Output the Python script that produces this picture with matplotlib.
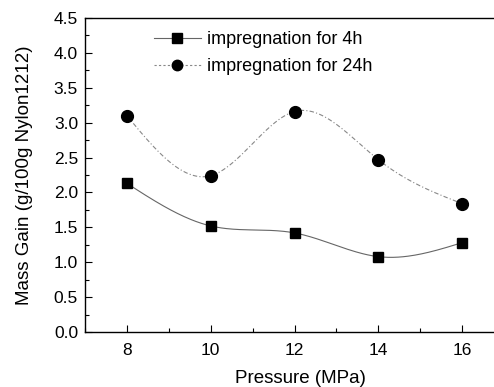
import numpy as np
import matplotlib
matplotlib.use("Agg")
import matplotlib.pyplot as plt
from matplotlib.ticker import MultipleLocator, FormatStrFormatter

plt.rcParams['font.family'] = ['Liberation Sans', 'DejaVu Sans']

pressure = [8, 10, 12, 14, 16]
gain_4h = [2.13, 1.52, 1.42, 1.08, 1.28]
gain_24h = [3.10, 2.24, 3.16, 2.47, 1.84]
labels = ["impregnation for 4h", "impregnation for 24h"]


def natural_spline(x, y, n=200):
    # natural cubic spline through the points, only for drawing the curve
    x = np.asarray(x, float)
    y = np.asarray(y, float)
    k = len(x)
    h = np.diff(x)
    A = np.zeros((k, k))
    b = np.zeros(k)
    A[0, 0] = A[-1, -1] = 1
    for i in range(1, k - 1):
        A[i, i - 1] = h[i - 1]
        A[i, i] = 2 * (h[i - 1] + h[i])
        A[i, i + 1] = h[i]
        b[i] = 6 * ((y[i + 1] - y[i]) / h[i] - (y[i] - y[i - 1]) / h[i - 1])
    m = np.linalg.solve(A, b)
    xs = np.linspace(x[0], x[-1], n)
    idx = np.clip(np.searchsorted(x, xs) - 1, 0, k - 2)
    x0, x1 = x[idx], x[idx + 1]
    hh = x1 - x0
    t0, t1 = x1 - xs, xs - x0
    ys = (m[idx] * t0 ** 3 + m[idx + 1] * t1 ** 3) / (6 * hh) \
        + (y[idx] / hh - m[idx] * hh / 6) * t0 \
        + (y[idx + 1] / hh - m[idx + 1] * hh / 6) * t1
    return xs, ys


fig = plt.figure(figsize=(4.94, 3.87), dpi=100)
ax = fig.add_axes([85 / 494, 55 / 387, 419 / 494, 314 / 387])

xs, ys = natural_spline(pressure, gain_4h)
ax.plot(xs, ys, color='#666666', lw=0.8, ls='-')
xs, ys = natural_spline(pressure, gain_24h)
ax.plot(xs, ys, color='#888888', lw=0.8, ls=(0, (4, 2, 1, 2)))

ax.plot(pressure, gain_4h, ls='none', marker='s', ms=7.5, color='black')
ax.plot(pressure, gain_24h, ls='none', marker='o', ms=8.5, color='black')

# legend proxies
ax.plot([], [], color='#666666', lw=0.8, marker='s', ms=7, mfc='black', mec='black', label=labels[0])
ax.plot([], [], color='#888888', lw=0.8, ls=(0, (2, 2)), marker='o', ms=7.5, mfc='black', mec='black', label=labels[1])
handles, labs = ax.get_legend_handles_labels()
ax.legend(handles, labs, loc='upper left', bbox_to_anchor=(0.125, 1.01), frameon=False,
          fontsize=13, handlelength=2.6, handletextpad=0.35, labelspacing=0.55)

ax.set_xlim(7, 17)
ax.set_ylim(0, 4.5)
ax.xaxis.set_minor_locator(MultipleLocator(1))
ax.yaxis.set_major_locator(MultipleLocator(0.5))
ax.yaxis.set_minor_locator(MultipleLocator(0.25))
ax.set_xticks([8, 10, 12, 14, 16])
ax.yaxis.set_major_formatter(FormatStrFormatter('%.1f'))
ax.tick_params(which='both', direction='in', labelsize=12.5, width=0.8)
ax.tick_params(which='major', length=5)
ax.tick_params(which='minor', length=3)
ax.tick_params(axis='x', pad=8)
ax.tick_params(axis='y', pad=5)
for s in ax.spines.values():
    s.set_linewidth(1.0)

ax.set_xlabel("Pressure (MPa)", fontsize=13.5)
ax.xaxis.set_label_coords(0.513, -0.122)
ax.set_ylabel("Mass Gain (g/100g Nylon1212)", fontsize=13.5)
ax.yaxis.set_label_coords(-0.125, 0.5)

fig.savefig("out.png", dpi=100)
